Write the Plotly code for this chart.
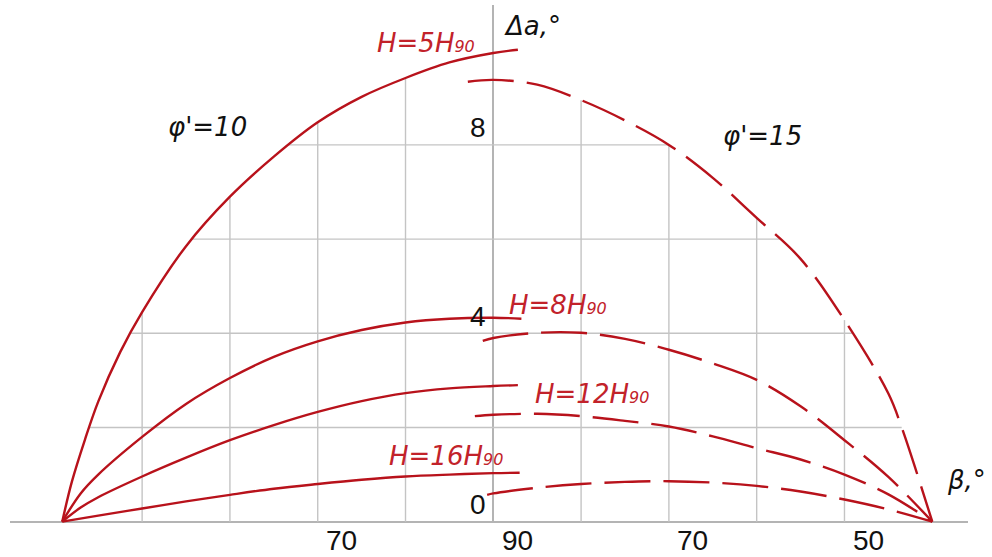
import numpy as np
import plotly.graph_objects as go

# Δa (deg) versus β (deg). Left half: φ' = 10 (solid), right half: φ' = 15 (dashed).
# The β axis is folded at 90°: left side runs 40→90, right side runs 90→40.

# φ' = 10
beta_10_h5 = [40.9, 42.0, 43.5, 45.0, 47.5, 50.0, 55.0, 60.0, 65.0, 70.0, 75.0, 80.0, 85.0, 90.0, 92.8]
da_10_h5 = [0.0, 0.85, 1.75, 2.55, 3.60, 4.45, 5.85, 6.90, 7.75, 8.48, 9.02, 9.42, 9.75, 9.95, 10.02]

beta_10_h8 = [40.9, 43.0, 45.0, 50.0, 55.0, 60.0, 65.0, 70.0, 75.0, 80.0, 85.0, 90.0, 93.2]
da_10_h8 = [0.0, 0.60, 1.00, 1.80, 2.50, 3.05, 3.50, 3.83, 4.07, 4.23, 4.31, 4.33, 4.31]

beta_10_h12 = [40.9, 43.0, 45.0, 50.0, 55.0, 60.0, 65.0, 70.0, 75.0, 80.0, 85.0, 90.0, 92.8]
da_10_h12 = [0.0, 0.30, 0.52, 0.96, 1.36, 1.73, 2.05, 2.33, 2.56, 2.73, 2.83, 2.88, 2.90]

beta_10_h16 = [40.9, 45.0, 50.0, 55.0, 60.0, 65.0, 70.0, 75.0, 80.0, 85.0, 90.0, 93.0]
da_10_h16 = [0.0, 0.13, 0.28, 0.43, 0.57, 0.70, 0.80, 0.89, 0.96, 1.00, 1.03, 1.04]

# φ' = 15
beta_15_h5 = [92.9, 90.0, 85.0, 80.0, 75.0, 70.0, 65.0, 60.0, 55.0, 50.0, 45.0, 43.5, 40.0]
da_15_h5 = [9.34, 9.38, 9.28, 8.95, 8.52, 8.00, 7.30, 6.45, 5.58, 4.28, 2.72, 2.01, 0.0]

beta_15_h8 = [91.2, 90.0, 85.0, 80.0, 75.0, 70.0, 65.0, 60.0, 55.0, 50.0, 45.0, 40.0]
da_15_h8 = [3.84, 3.90, 4.01, 4.01, 3.88, 3.65, 3.36, 3.01, 2.45, 1.73, 0.95, 0.0]

beta_15_h12 = [92.1, 90.0, 85.0, 80.0, 75.0, 70.0, 65.0, 60.0, 55.0, 50.0, 45.0, 40.0]
da_15_h12 = [2.24, 2.27, 2.29, 2.24, 2.14, 2.02, 1.81, 1.56, 1.32, 1.00, 0.58, 0.0]

beta_15_h16 = [90.7, 90.0, 85.0, 80.0, 75.0, 70.0, 65.0, 60.0, 55.0, 50.0, 45.0, 40.0]
da_15_h16 = [0.57, 0.60, 0.72, 0.80, 0.845, 0.86, 0.83, 0.76, 0.64, 0.47, 0.26, 0.0]

# axis ticks
x_tick_beta = [70, 90, 70, 50]
x_tick_side = ["left", "left", "right", "right"]
y_tick_vals = [0, 4, 8]
grid_beta = [50, 60, 70, 80]
grid_da = [2, 4, 6, 8]

RED = "#b8121b"
TXT_RED = "#c2222a"
GRID = "#c4c4c4"
AXIS = "#b4b4b4"


def left_x(beta):
    return np.asarray(beta, float) - 90.0


def right_x(beta):
    return 90.0 - np.asarray(beta, float)


fig = go.Figure()

# grid, bounded by the two outer (H=5H90) curves
ul, yl = left_x(beta_10_h5), np.asarray(da_10_h5)
ur, yr = right_x(beta_15_h5), np.asarray(da_15_h5)
ipk = int(np.argmax(yr))
ur_desc, yr_desc = ur[ipk:], yr[ipk:]

gx, gy = [], []
for b in grid_beta:
    xv = b - 90.0
    gx += [xv, xv, None]
    gy += [0, float(np.interp(xv, ul, yl)), None]
    xv = 90.0 - b
    gx += [xv, xv, None]
    gy += [0, float(np.interp(xv, ur_desc, yr_desc)), None]
for h in grid_da:
    x0 = float(np.interp(h, yl, ul))
    x1 = float(np.interp(h, yr_desc[::-1], ur_desc[::-1]))
    gx += [x0, x1, None]
    gy += [h, h, None]

fig.add_trace(go.Scatter(x=gx, y=gy, mode="lines",
                         line=dict(color=GRID, width=1.4),
                         hoverinfo="skip", showlegend=False))

solid = [(beta_10_h5, da_10_h5), (beta_10_h8, da_10_h8),
         (beta_10_h12, da_10_h12), (beta_10_h16, da_10_h16)]
dashed = [(beta_15_h5, da_15_h5), (beta_15_h8, da_15_h8),
          (beta_15_h12, da_15_h12), (beta_15_h16, da_15_h16)]

for b, d in solid:
    fig.add_trace(go.Scatter(x=left_x(b), y=d, mode="lines",
                             line=dict(color=RED, width=2.4, shape="spline", smoothing=1.0),
                             showlegend=False))
for b, d in dashed:
    fig.add_trace(go.Scatter(x=right_x(b), y=d, mode="lines",
                             line=dict(color=RED, width=2.4, shape="spline", smoothing=1.0,
                                       dash="46px,13px"),
                             showlegend=False))

ann = []
TF = "DejaVu Sans"
NF = "Liberation Sans, Arial"


def h_label(n):
    return f"<i>H={n}H<span style='font-size:16px'>90</span></i>"


# curve labels
ann.append(dict(x=-1.86, y=10.17, text=h_label(5), xanchor="right", yanchor="middle",
                font=dict(family=TF, size=26, color=TXT_RED)))
ann.append(dict(x=1.53, y=4.60, text=h_label(8), xanchor="left", yanchor="middle",
                font=dict(family=TF, size=26, color=TXT_RED)))
ann.append(dict(x=4.53, y=2.71, text=h_label(12), xanchor="left", yanchor="middle",
                font=dict(family=TF, size=26, color=TXT_RED)))
ann.append(dict(x=-12.14, y=1.40, text=h_label(16), xanchor="left", yanchor="middle",
                font=dict(family=TF, size=26, color=TXT_RED)))
ann.append(dict(x=-37.3, y=8.39, text="<i>\u03c6'=10</i>", xanchor="left", yanchor="middle",
                font=dict(family=TF, size=26, color="#111111")))
ann.append(dict(x=25.9, y=8.19, text="<i>\u03c6'=15</i>", xanchor="left", yanchor="middle",
                font=dict(family=TF, size=26, color="#111111")))
# axis titles
ann.append(dict(x=0.99, y=10.53, text="<i>\u0394a,\u00b0</i>", xanchor="left", yanchor="middle",
                font=dict(family=TF, size=26, color="#111111")))
ann.append(dict(x=51.4, y=0.886, text="<i>\u03b2,\u00b0</i>", xanchor="left", yanchor="middle",
                font=dict(family=TF, size=26, color="#111111")))

# tick labels
for b, side in zip(x_tick_beta, x_tick_side):
    xv = b - 90.0 if side == "left" else 90.0 - b
    ann.append(dict(x=xv, y=0, text=str(b), xshift=24, yshift=-19,
                    xanchor="center", yanchor="middle", showarrow=False,
                    font=dict(family=NF, size=28, color="#111111")))
for v in y_tick_vals:
    ann.append(dict(x=0, y=v, text=str(v), xshift=-15, yshift=17,
                    xanchor="center", yanchor="middle", showarrow=False,
                    font=dict(family=NF, size=28, color="#111111")))

for a in ann:
    a.setdefault("showarrow", False)
    a.setdefault("xref", "x")
    a.setdefault("yref", "y")

fig.update_layout(
    width=992, height=557,
    margin=dict(l=10, r=24, t=5, b=34),
    paper_bgcolor="white", plot_bgcolor="white",
    annotations=ann,
    xaxis=dict(range=[-55.05, 54.07], showgrid=False, showticklabels=False, ticks="",
               zeroline=True, zerolinecolor=AXIS, zerolinewidth=1.6, showline=False,
               fixedrange=True),
    yaxis=dict(range=[-0.028, 10.97], showgrid=False, showticklabels=False, ticks="",
               zeroline=True, zerolinecolor=AXIS, zerolinewidth=1.6, showline=False,
               fixedrange=True),
)

fig.write_html("out.html")
